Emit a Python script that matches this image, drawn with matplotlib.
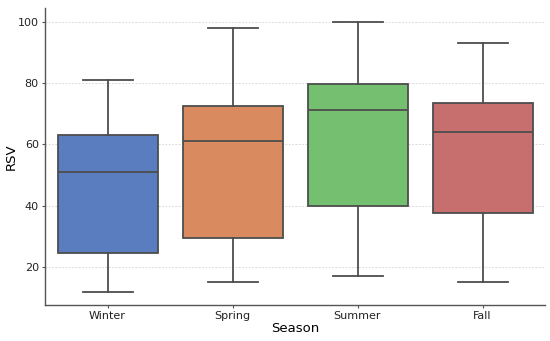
import matplotlib
matplotlib.use("Agg")
import matplotlib.pyplot as plt
import seaborn as sns

seasons = ["Winter", "Spring", "Summer", "Fall"]
whisker_low = [12, 15, 17, 15]
q1 = [24.5, 29.5, 40, 37.5]
medians = [51, 61, 71, 64]
q3 = [63, 72.5, 79.5, 73.5]
whisker_high = [81, 98, 100, 93]


def main():
    colors = [sns.desaturate(c, 0.75) for c in sns.color_palette("muted", 4)]
    stats = []
    for i, name in enumerate(seasons):
        stats.append({"label": name, "whislo": whisker_low[i], "q1": q1[i],
                      "med": medians[i], "q3": q3[i], "whishi": whisker_high[i],
                      "fliers": []})

    fig = plt.figure(figsize=(5.5, 3.41), dpi=100)
    ax = fig.add_axes([45 / 550, 36 / 341, 500 / 550, 297 / 341])
    line = dict(color="#4d4d4d", linewidth=1.3)
    bp = ax.bxp(stats, positions=range(len(seasons)), widths=0.8, patch_artist=True,
                showfliers=False, boxprops=line, whiskerprops=line, capprops=line,
                medianprops=line, capwidths=0.4)
    for patch, c in zip(bp["boxes"], colors):
        patch.set_facecolor(c)
        patch.set_edgecolor("#4d4d4d")

    ax.set_xlim(-0.5, 3.5)
    ax.set_ylim(7.6, 104.4)
    ax.set_yticks([20, 40, 60, 80, 100])
    ax.yaxis.grid(True, linestyle=(0, (2, 2)), color="#d0d0d0", linewidth=0.6)
    ax.set_axisbelow(True)
    for side in ["top", "right"]:
        ax.spines[side].set_visible(False)
    for side in ["left", "bottom"]:
        ax.spines[side].set_color("#555555")
        ax.spines[side].set_linewidth(1.0)
    ax.tick_params(labelsize=8, length=2.5, pad=2, color="#555555", labelcolor="#222222")
    ax.tick_params(axis="x", pad=1.5)
    ax.set_xlabel("Season", fontsize=9.5, labelpad=1)
    ax.set_ylabel("RSV", fontsize=9.5, labelpad=0)
    fig.savefig("out.png", dpi=100)


if __name__ == "__main__":
    main()
